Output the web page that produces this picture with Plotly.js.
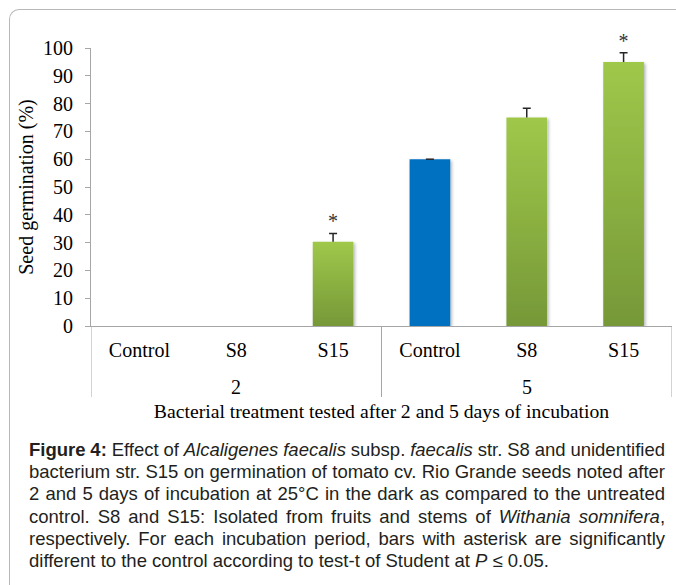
<!DOCTYPE html>
<html><head><meta charset="utf-8">
<script src="https://cdn.plot.ly/plotly-3.0.1.min.js"></script>
<style>
html,body{margin:0;padding:0;background:#fff;}
#wrap{position:relative;width:676px;height:585px;overflow:hidden;background:#fff;}
#frame{position:absolute;left:9px;top:9px;width:800px;height:800px;border-top:1.5px solid #b8b8b8;border-left:1.5px solid #b8b8b8;border-top-left-radius:10px;}
#chart{position:absolute;left:0;top:0;width:676px;height:585px;}
#caption{position:absolute;left:29px;top:439px;width:636px;font-family:"Liberation Sans",Arial,sans-serif;font-size:18.5px;line-height:22.2px;color:#231f20;}
.ln{white-space:nowrap;display:block;}
.ln span.t{display:inline;}
</style></head>
<body>
<div id="wrap">
<div id="frame"></div>
<div id="chart"></div>
<div id="caption">
<div class="ln"><span class="t"><b>Figure 4:</b> Effect of <i>Alcaligenes faecalis</i> subsp. <i>faecalis</i> str. S8 and unidentified</span></div>
<div class="ln"><span class="t">bacterium str. S15 on germination of tomato cv. Rio Grande seeds noted after</span></div>
<div class="ln"><span class="t">2 and 5 days of incubation at 25°C in the dark as compared to the untreated</span></div>
<div class="ln"><span class="t">control. S8 and S15: Isolated from fruits and stems of <i>Withania somnifera</i>,</span></div>
<div class="ln"><span class="t">respectively. For each incubation period, bars with asterisk are significantly</span></div>
<div class="ln last"><span class="t">different to the control according to test-t of Student at <i>P</i> ≤ 0.05.</span></div>
</div>
</div>
<script>
// ---- data ----
const days = ['2', '2', '2', '5', '5', '5'];
const treatments = ['Control', 'S8', 'S15', 'Control', 'S8', 'S15'];
const germination = [0, 0, 30.3, 60, 75, 95];
const errors = [0, 0, 3, 0, 3.3, 3.3];
const significance = ['', '', '*', '', '', '*'];

const BLUE = '#0070c0';
const GREEN = '#8cb444';
const AXIS = '#a6a6a6';
const serif = '"Liberation Serif","Times New Roman",Times,serif';

const positions = treatments.map((_, i) => i);
const barColors = treatments.map(t => t === 'Control' ? BLUE : GREEN);
const markTops = germination.map((v, i) => v + errors[i]);

// groups (days) -> centre positions and boundaries
const groupNames = [...new Set(days)];
const groupCenters = groupNames.map(g => {
  const idx = positions.filter(i => days[i] === g);
  return idx.reduce((a, b) => a + b, 0) / idx.length;
});
const boundaries = [-0.5];
positions.forEach(i => { if (i === positions.length - 1 || days[i] !== days[i + 1]) boundaries.push(i + 0.5); });

const plotH = 585 - 48 - 259;
const dividerDepth = 71 / plotH;

const traces = [
  {
    type: 'bar',
    x: positions,
    y: germination,
    marker: {color: barColors, line: {width: 0}},
    error_y: {type: 'data', symmetric: false, array: errors, arrayminus: errors.map(() => 0),
              visible: true, color: '#262626', thickness: 1.5, width: 4},
    hoverinfo: 'skip',
    showlegend: false
  },
  {
    type: 'scatter',
    mode: 'text',
    x: positions,
    y: markTops,
    text: significance,
    textposition: 'top center',
    textfont: {family: serif, size: 20, color: '#333'},
    cliponaxis: false,
    hoverinfo: 'skip',
    showlegend: false
  }
];

const layout = {
  width: 676, height: 585,
  margin: {l: 91, r: 4, t: 48, b: 259, pad: 0},
  paper_bgcolor: 'rgba(0,0,0,0)',
  plot_bgcolor: 'rgba(0,0,0,0)',
  bargap: 0.58,
  showlegend: false,
  font: {family: serif, size: 20, color: '#000'},
  xaxis: {
    type: 'linear', range: [-0.5, positions.length - 0.5],
    tickmode: 'array', tickvals: positions, ticktext: treatments,
    showline: true, linecolor: AXIS, linewidth: 1,
    ticks: '', showgrid: false, zeroline: false,
    ticklabelstandoff: 6,
    tickfont: {family: serif, size: 20, color: '#000'},
    title: {text: 'Bacterial treatment tested after 2 and 5 days of incubation', font: {family: serif, size: 19.7, color: '#000'}, standoff: 44}
  },
  yaxis: {
    range: [0, 100], tick0: 0, dtick: 10,
    showline: true, linecolor: AXIS, linewidth: 1,
    ticks: 'outside', ticklen: 5, tickcolor: AXIS,
    showgrid: false, zeroline: false,
    tickfont: {family: serif, size: 20, color: '#000'},
    ticklabelstandoff: 8,
    title: {text: 'Seed germination (%)', font: {family: serif, size: 20, color: '#000'}, standoff: 4}
  },
  shapes: boundaries.map(b => ({
    type: 'line', xref: 'x', yref: 'paper', x0: b, x1: b, y0: 0, y1: -dividerDepth,
    line: {color: AXIS, width: 1}
  })),
  annotations: groupNames.map((g, k) => ({
    xref: 'x', yref: 'paper', x: groupCenters[k], y: 0, yanchor: 'middle', yshift: -61,
    text: g, showarrow: false, font: {family: serif, size: 20, color: '#000'}
  }))
};

Plotly.newPlot('chart', traces, layout, {staticPlot: true, displayModeBar: false}).then(gd => {
  const svg = gd.querySelector('svg.main-svg');
  const NS = 'http://www.w3.org/2000/svg';
  let defs = svg.querySelector('defs');
  if (!defs) { defs = document.createElementNS(NS, 'defs'); svg.insertBefore(defs, svg.firstChild); }
  const lg = document.createElementNS(NS, 'linearGradient');
  lg.setAttribute('id', 'greenGrad');
  lg.setAttribute('x1', '0'); lg.setAttribute('y1', '0');
  lg.setAttribute('x2', '0'); lg.setAttribute('y2', '1');
  [['0', '#9fc84a'], ['1', '#769838']].forEach(([o, c]) => {
    const s = document.createElementNS(NS, 'stop');
    s.setAttribute('offset', o); s.setAttribute('stop-color', c);
    lg.appendChild(s);
  });
  defs.appendChild(lg);
  const f = document.createElementNS(NS, 'filter');
  f.setAttribute('id', 'barShadow');
  f.setAttribute('x', '-20%'); f.setAttribute('y', '-5%');
  f.setAttribute('width', '150%'); f.setAttribute('height', '115%');
  const ds = document.createElementNS(NS, 'feDropShadow');
  ds.setAttribute('dx', '1.5'); ds.setAttribute('dy', '1.5');
  ds.setAttribute('stdDeviation', '1.5');
  ds.setAttribute('flood-color', '#000'); ds.setAttribute('flood-opacity', '0.3');
  f.appendChild(ds);
  defs.appendChild(f);
  const paths = gd.querySelectorAll('.barlayer .trace .point path');
  paths.forEach((p, i) => {
    if (germination[i] > 0) p.setAttribute('filter', 'url(#barShadow)');
    if (treatments[i] !== 'Control') p.style.fill = 'url(#greenGrad)';
  });
  // error bars: keep only the upper whisker (hat + stem); none for empty bars
  gd.querySelectorAll('.barlayer .errorbar').forEach((eb, i) => {
    const p = eb.querySelector('path.yerror');
    if (!p) return;
    if (!(germination[i] > 0)) { p.setAttribute('d', ''); return; }
    const d = p.getAttribute('d') || '';
    p.setAttribute('d', d.replace(/m-?[\d.]+,0h[\d.]+$/, ''));
  });
});

// justify caption lines
(function () {
  const W = 636;
  document.querySelectorAll('#caption .ln').forEach(ln => {
    if (ln.classList.contains('last')) return;
    const t = ln.querySelector('.t');
    const w = t.getBoundingClientRect().width;
    const spaces = (t.textContent.match(/ /g) || []).length;
    if (spaces > 0) t.style.wordSpacing = ((W - w) / spaces) + 'px';
  });
})();
</script>
</body></html>
